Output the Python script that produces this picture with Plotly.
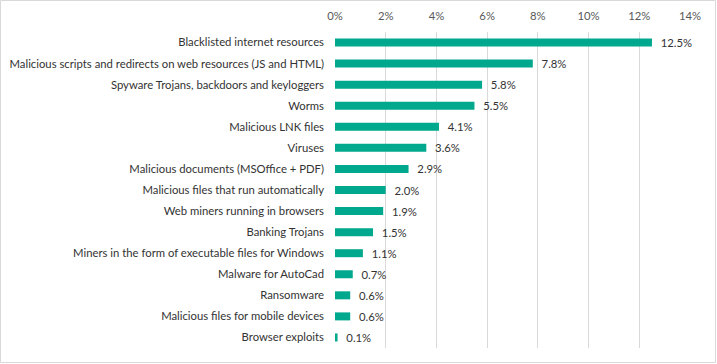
import plotly.graph_objects as go

categories = [
    "Blacklisted internet resources",
    "Malicious scripts and redirects on web resources (JS and HTML)",
    "Spyware Trojans, backdoors and keyloggers",
    "Worms",
    "Malicious LNK files",
    "Viruses",
    "Malicious documents (MSOffice + PDF)",
    "Malicious files that run automatically",
    "Web miners running in browsers",
    "Banking Trojans",
    "Miners in the form of executable files for Windows",
    "Malware for AutoCad",
    "Ransomware",
    "Malicious files for mobile devices",
    "Browser exploits",
]
values = [12.5, 7.8, 5.8, 5.5, 4.1, 3.6, 2.9, 2.0, 1.9, 1.5, 1.1, 0.7, 0.6, 0.6, 0.1]
tick_vals = [0, 2, 4, 6, 8, 10, 12, 14]
tick_text = ["0%", "2%", "4%", "6%", "8%", "10%", "12%", "14%"]

W, H = 717, 364
ML, MR, MT, MB = 335, 27, 32, 16
FONT = "Lato"
FS = 11.3
TXT = "#333333"

fig = go.Figure(go.Bar(
    x=values, y=categories, orientation="h",
    marker=dict(color="#00A88E", line=dict(width=0)),
    text=[f"  {v:.1f}%" for v in values], textposition="outside",
    textfont=dict(family=FONT, size=FS, color=TXT),
    constraintext="none",
    cliponaxis=False,
))

pw = W - ML - MR
ph = H - MT - MB
fig.add_shape(type="rect", xref="paper", yref="paper",
              x0=-(ML - 0.5) / pw, x1=1 + (MR - 1.5) / pw,
              y0=-(MB - 1.5) / ph, y1=1 + (MT - 0.5) / ph,
              line=dict(color="#D9D9D9", width=1), layer="below")

fig.update_layout(
    width=W, height=H,
    margin=dict(l=ML, r=MR, t=MT, b=MB, pad=0, autoexpand=False),
    paper_bgcolor="white", plot_bgcolor="white",
    bargap=0.62, showlegend=False,
    font=dict(family=FONT, size=FS, color=TXT),
    xaxis=dict(side="top", range=[0, 14], tickvals=tick_vals, ticktext=tick_text,
               showgrid=True, gridcolor="#D9D9D9", gridwidth=1,
               zeroline=False, showline=False, ticks="", automargin=False,
               ticklabelstandoff=9,
               tickfont=dict(family=FONT, size=FS, color="#595959")),
    yaxis=dict(autorange="reversed", showgrid=False, zeroline=False, showline=False,
               ticks="", ticklabelstandoff=10, automargin=False,
               tickfont=dict(family=FONT, size=FS, color=TXT)),
)

fig.write_html("out.html", config={"displayModeBar": False},
               post_script="document.body.style.margin='0';document.body.style.overflow='hidden';")
